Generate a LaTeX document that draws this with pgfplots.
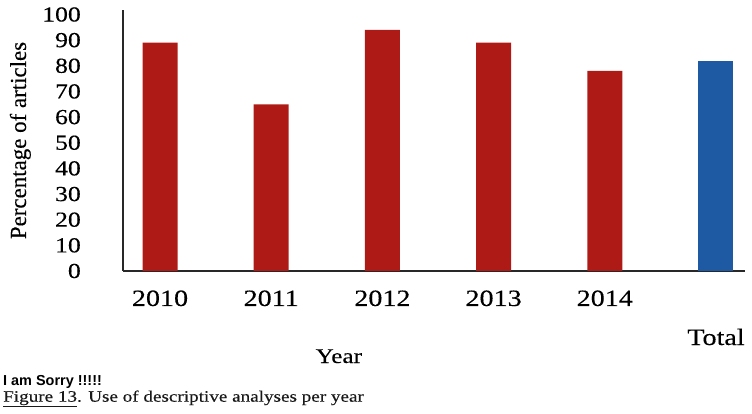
\documentclass[border=0pt]{standalone}
\usepackage{fontspec}
\setmainfont{Liberation Serif}[FakeStretch=1.2, FakeBold=0.3]
\newfontfamily\ylabfont{Liberation Serif}[FakeBold=0.3]
\newfontfamily\sorryfont{Liberation Sans}
\usepackage{pgfplots}
\pgfplotsset{compat=1.18}
\definecolor{barred}{RGB}{174,27,22}
\definecolor{barblue}{RGB}{30,90,163}
\definecolor{axisgray}{RGB}{40,40,40}
\begin{document}
\begin{tikzpicture}
\useasboundingbox (0,0) rectangle (752bp,414bp);
\begin{axis}[
  at={(123bp,143bp)}, anchor=south west,
  scale only axis,
  width=622bp, height=261bp,
  xmin=-0.333, xmax=5.261,
  ymin=0, ymax=101.75,
  axis x line=bottom, axis y line=left,
  axis line style={-, line width=1.7bp, color=axisgray},
  ybar, bar width=35bp, bar shift=0pt,
  xtick={0,1,2,3,4},
  xticklabels={2010,2011,2012,2013,2014},
  extra x ticks={5},
  extra x tick labels={Total},
  extra x tick style={xticklabel style={yshift=-39bp}},
  ytick={0,10,...,100},
  major tick length=0pt,
  /pgf/number format/assume math mode=true,
  xticklabel style={anchor=base, yshift=-35bp, font=\fontsize{23.5}{24}\selectfont, text=black},
  yticklabel style={anchor=east, inner sep=0pt, xshift=-42bp, font=\fontsize{21.5}{22}\selectfont, text=black},
  xlabel={Year},
  xlabel style={at={(axis description cs:0.347,0)}, anchor=base, yshift=-92bp, font=\fontsize{21}{22}\selectfont, text=black},
  ylabel={Percentage of articles},
  ylabel style={at={(axis description cs:-0.165,0.5)}, anchor=center, font=\ylabfont\fontsize{23}{24}\selectfont, text=black},
  clip=false,
]
\addplot[fill=barred, draw=none] coordinates {(0,89) (1,65) (2,94) (3,89) (4,78)};
\addplot[fill=barblue, draw=none] coordinates {(5,82)};
\end{axis}
\node[anchor=base west, inner sep=0pt] at (3bp,29bp) {\sorryfont\bfseries\fontsize{14.5}{15}\selectfont I am Sorry !!!!!};
\node[anchor=base west, inner sep=0pt, text=black!90] at (3bp,12.3bp) {\fontsize{16}{17}\selectfont\underline{Figure 13}. Use of descriptive analyses per year};
\end{tikzpicture}
\end{document}
